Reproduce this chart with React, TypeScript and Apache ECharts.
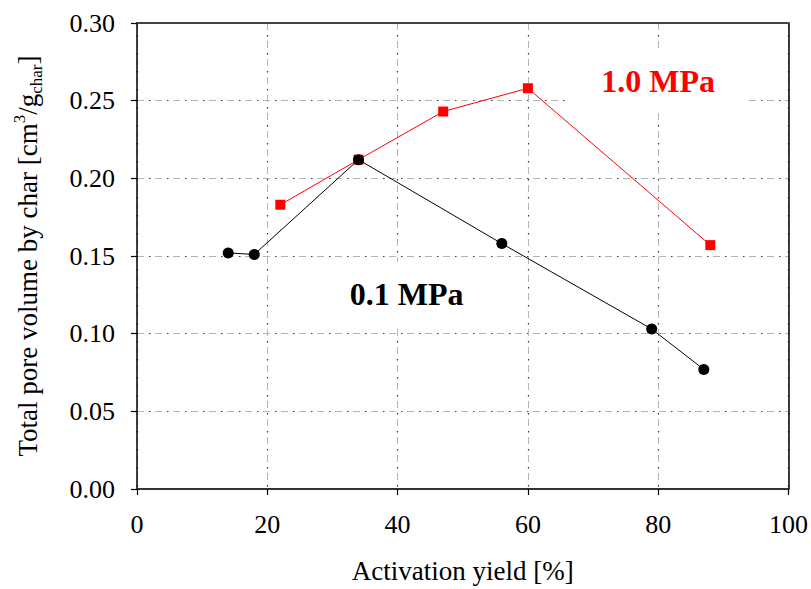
import React, { useEffect, useRef } from "react";
import * as echarts from "echarts";

const FONT = "'Liberation Serif', 'Times New Roman', serif";

const yieldLow = [14, 18, 34, 56, 79, 87];
const volumeLow = [0.152, 0.151, 0.212, 0.158, 0.103, 0.077];
const yieldHigh = [22, 34, 47, 60, 88];
const volumeHigh = [0.183, 0.212, 0.243, 0.258, 0.157];

const xTicks = { min: 0, max: 100, interval: 20 };
const yTicks = { min: 0, max: 0.3, interval: 0.05 };

const labelLow = { text: "0.1 MPa", x: 41.4, y: 0.1255 };
const labelHigh = { text: "1.0 MPa", x: 80, y: 0.2625 };

export default function App() {
  const ref = useRef<HTMLDivElement>(null);
  useEffect(() => {
    if (!ref.current) return;
    const chart = echarts.init(ref.current, undefined, { renderer: "svg" });
    const grayDash = { color: "#b4b4b4", width: 1, type: [7, 11] as number[], dashOffset: 0 };
    const darkDot = { color: "#333", width: 1.2, type: [1.5, 16.5] as number[], dashOffset: 6.25 };
    const mkLabel = (l: any, color: string) => ({
      silent: true,
      symbol: "rect",
      symbolSize: [180, 64],
      itemStyle: { color: "#fff" },
      label: {
        show: true,
        position: "inside",
        formatter: l.text,
        color,
        fontSize: 32,
        fontWeight: "bold",
        fontFamily: FONT,
      },
      data: [{ coord: [l.x, l.y] }],
    });
    chart.setOption({
      animation: false,
      backgroundColor: "#fff",
      grid: { left: 137, right: 21, top: 23, bottom: 99, containLabel: false },
      xAxis: [
        {
          type: "value",
          position: "bottom",
          ...xTicks,
          name: "Activation yield [%]",
          nameLocation: "middle",
          nameGap: 68,
          nameTextStyle: { fontFamily: FONT, fontSize: 27, color: "#000" },
          axisLine: { show: true, onZero: false, lineStyle: { color: "#333", width: 2 } },
          axisTick: { show: true, inside: false, length: 6, lineStyle: { color: "#000", width: 1.2 } },
          axisLabel: { fontFamily: FONT, fontSize: 26, color: "#000", margin: 22 },
          splitLine: { show: true, lineStyle: grayDash },
        },
        {
          type: "value",
          position: "top",
          ...xTicks,
          axisLine: { show: true, onZero: false, lineStyle: { color: "#444", width: 2 } },
          axisTick: { show: false },
          axisLabel: { show: false },
          splitLine: { show: true, lineStyle: darkDot },
        },
      ],
      yAxis: [
        {
          type: "value",
          position: "left",
          ...yTicks,
          name: "{t|Total pore volume by char [cm}{sup|3}{t|/g}{sub|char}{t|]}",
          nameLocation: "middle",
          nameGap: 92,
          nameTextStyle: {
            fontFamily: FONT,
            fontSize: 27,
            color: "#000",
            rich: {
              t: { fontFamily: FONT, fontSize: 27, lineHeight: 34, color: "#000" },
              sup: { fontFamily: FONT, fontSize: 17, lineHeight: 18, verticalAlign: "top", color: "#000" },
              sub: { fontFamily: FONT, fontSize: 17, lineHeight: 18, verticalAlign: "bottom", color: "#000" },
            },
          },
          axisLine: { show: true, onZero: false, lineStyle: { color: "#000", width: 1.5 } },
          axisTick: { show: true, inside: false, length: 6, lineStyle: { color: "#000", width: 1.2 } },
          axisLabel: {
            fontFamily: FONT,
            fontSize: 26,
            color: "#000",
            margin: 22,
            formatter: (v: number) => v.toFixed(2),
          },
          splitLine: { show: true, lineStyle: grayDash },
        },
        {
          type: "value",
          position: "right",
          ...yTicks,
          axisLine: { show: true, onZero: false, lineStyle: { color: "#000", width: 1.5 } },
          axisTick: { show: false },
          axisLabel: { show: false },
          splitLine: { show: true, lineStyle: darkDot },
        },
      ],
      series: [
        {
          name: "1.0 MPa",
          type: "line",
          xAxisIndex: 0,
          yAxisIndex: 0,
          data: yieldHigh.map((x, i) => [x, volumeHigh[i]]),
          symbol: "rect",
          symbolSize: 10,
          itemStyle: { color: "#ff0000" },
          lineStyle: { color: "#ff0000", width: 1 },
          markPoint: mkLabel(labelHigh, "#ff0000"),
          z: 3,
        },
        {
          name: "0.1 MPa",
          type: "line",
          xAxisIndex: 0,
          yAxisIndex: 0,
          data: yieldLow.map((x, i) => [x, volumeLow[i]]),
          symbol: "circle",
          symbolSize: 11,
          itemStyle: { color: "#000" },
          lineStyle: { color: "#000", width: 1 },
          markPoint: mkLabel(labelLow, "#000"),
          z: 4,
        },
      ],
    });
    return () => chart.dispose();
  }, []);
  return (
    <div
      ref={ref}
      style={{ position: "fixed", left: 0, top: 0, width: 811, height: 589, background: "#fff" }}
    />
  );
}
